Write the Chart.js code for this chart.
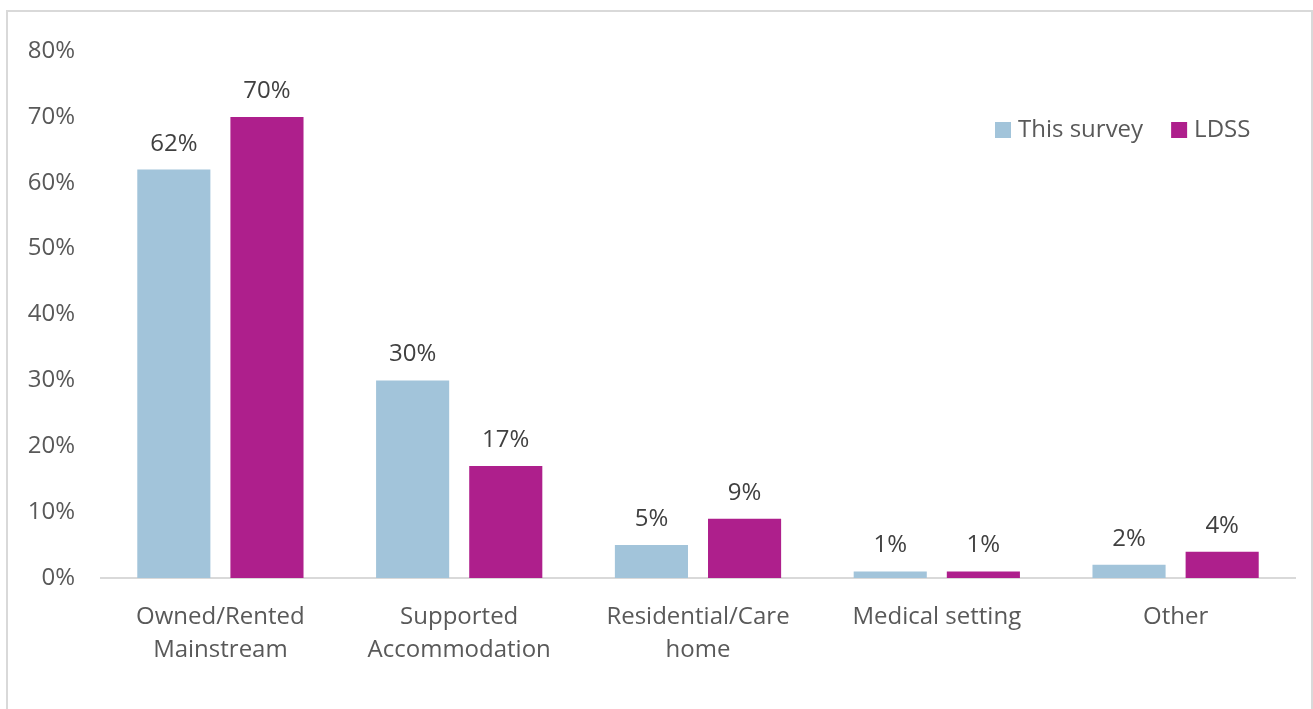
<!DOCTYPE html>
<html>
<head>
<meta charset="utf-8">
<script src="https://cdn.jsdelivr.net/npm/chart.js@4.4.1/dist/chart.umd.min.js"></script>
<style>
  html, body { margin: 0; padding: 0; background: #fff; overflow: hidden; }
  #frame { position: absolute; left: 6px; top: 10px; width: 1303px; height: 720px; border: 2px solid #D9D9D9; }
  #wrap { position: absolute; left: 0; top: 0; width: 1313px; height: 709px; }
</style>
</head>
<body>
<div id="frame"></div>
<div id="wrap"><canvas id="barChart"></canvas></div>
<script>
const categories = [
    ['Owned/Rented', 'Mainstream'],
    ['Supported', 'Accommodation'],
    ['Residential/Care', 'home'],
    'Medical setting',
    'Other'
];
const thisSurvey = [62, 30, 5, 1, 2];
const ldss = [70, 17, 9, 1, 4];
const seriesNames = ['This survey', 'LDSS'];

const FONT = '"Open Sans", sans-serif';

// draws the % value above each bar
const valueLabels = {
    id: 'valueLabels',
    afterDatasetsDraw(chart) {
        const ctx = chart.ctx;
        ctx.save();
        ctx.font = '24px ' + FONT;
        ctx.fillStyle = '#404040';
        ctx.textAlign = 'center';
        ctx.textBaseline = 'alphabetic';
        chart.data.datasets.forEach((ds, i) => {
            chart.getDatasetMeta(i).data.forEach((bar, j) => {
                ctx.fillText(ds.data[j] + '%', bar.x, bar.y - 19);
            });
        });
        ctx.restore();
    }
};

// legend sitting inside the plot, top right
const insideLegend = {
    id: 'insideLegend',
    afterDraw(chart) {
        const ctx = chart.ctx;
        ctx.save();
        ctx.font = '24px ' + FONT;
        ctx.textBaseline = 'middle';
        let x = 995;
        const y = 130;
        chart.data.datasets.forEach(ds => {
            ctx.fillStyle = ds.backgroundColor;
            ctx.fillRect(x, y - 8, 16, 16);
            ctx.fillStyle = '#595959';
            ctx.fillText(ds.label, x + 23, y);
            x += 23 + ctx.measureText(ds.label).width + 28;
        });
        ctx.restore();
    }
};

document.addEventListener("DOMContentLoaded", function() {
    const data = {
        labels: categories,
        datasets: [
            {
                label: seriesNames[0],
                data: thisSurvey,
                backgroundColor: '#A2C4DA',
                categoryPercentage: 0.78,
                barPercentage: 0.785,
            },
            {
                label: seriesNames[1],
                data: ldss,
                backgroundColor: '#AE1F8C',
                categoryPercentage: 0.78,
                barPercentage: 0.785,
            },
        ]
    };

    const options = {
        responsive: true,
        maintainAspectRatio: false,
        animation: false,
        layout: {
            padding: { top: 51, right: 18, bottom: 0, left: 0 },
        },
        scales: {
            y: {
                min: 0,
                max: 80,
                ticks: {
                    stepSize: 10,
                    padding: 18,
                    color: '#595959',
                    font: { family: FONT, size: 24 },
                    callback: v => v + '%',
                },
                grid: { display: false },
                border: { display: false },
                afterFit(scale) { scale.width = 101; },
            },
            x: {
                ticks: {
                    padding: 14,
                    color: '#595959',
                    font: { family: FONT, size: 24, lineHeight: 1.4 },
                    maxRotation: 0,
                    autoSkip: false,
                },
                grid: { display: false },
                border: { display: true, color: '#D9D9D9', width: 2 },
                afterFit(scale) { scale.height = 131; },
            },
        },
        plugins: {
            legend: { display: false },
            tooltip: { enabled: false },
        },
    };

    const ctx = document.getElementById('barChart').getContext('2d');
    new Chart(ctx, {
        type: 'bar',
        data: data,
        options: options,
        plugins: [valueLabels, insideLegend],
    });
});
</script>
</body>
</html>
